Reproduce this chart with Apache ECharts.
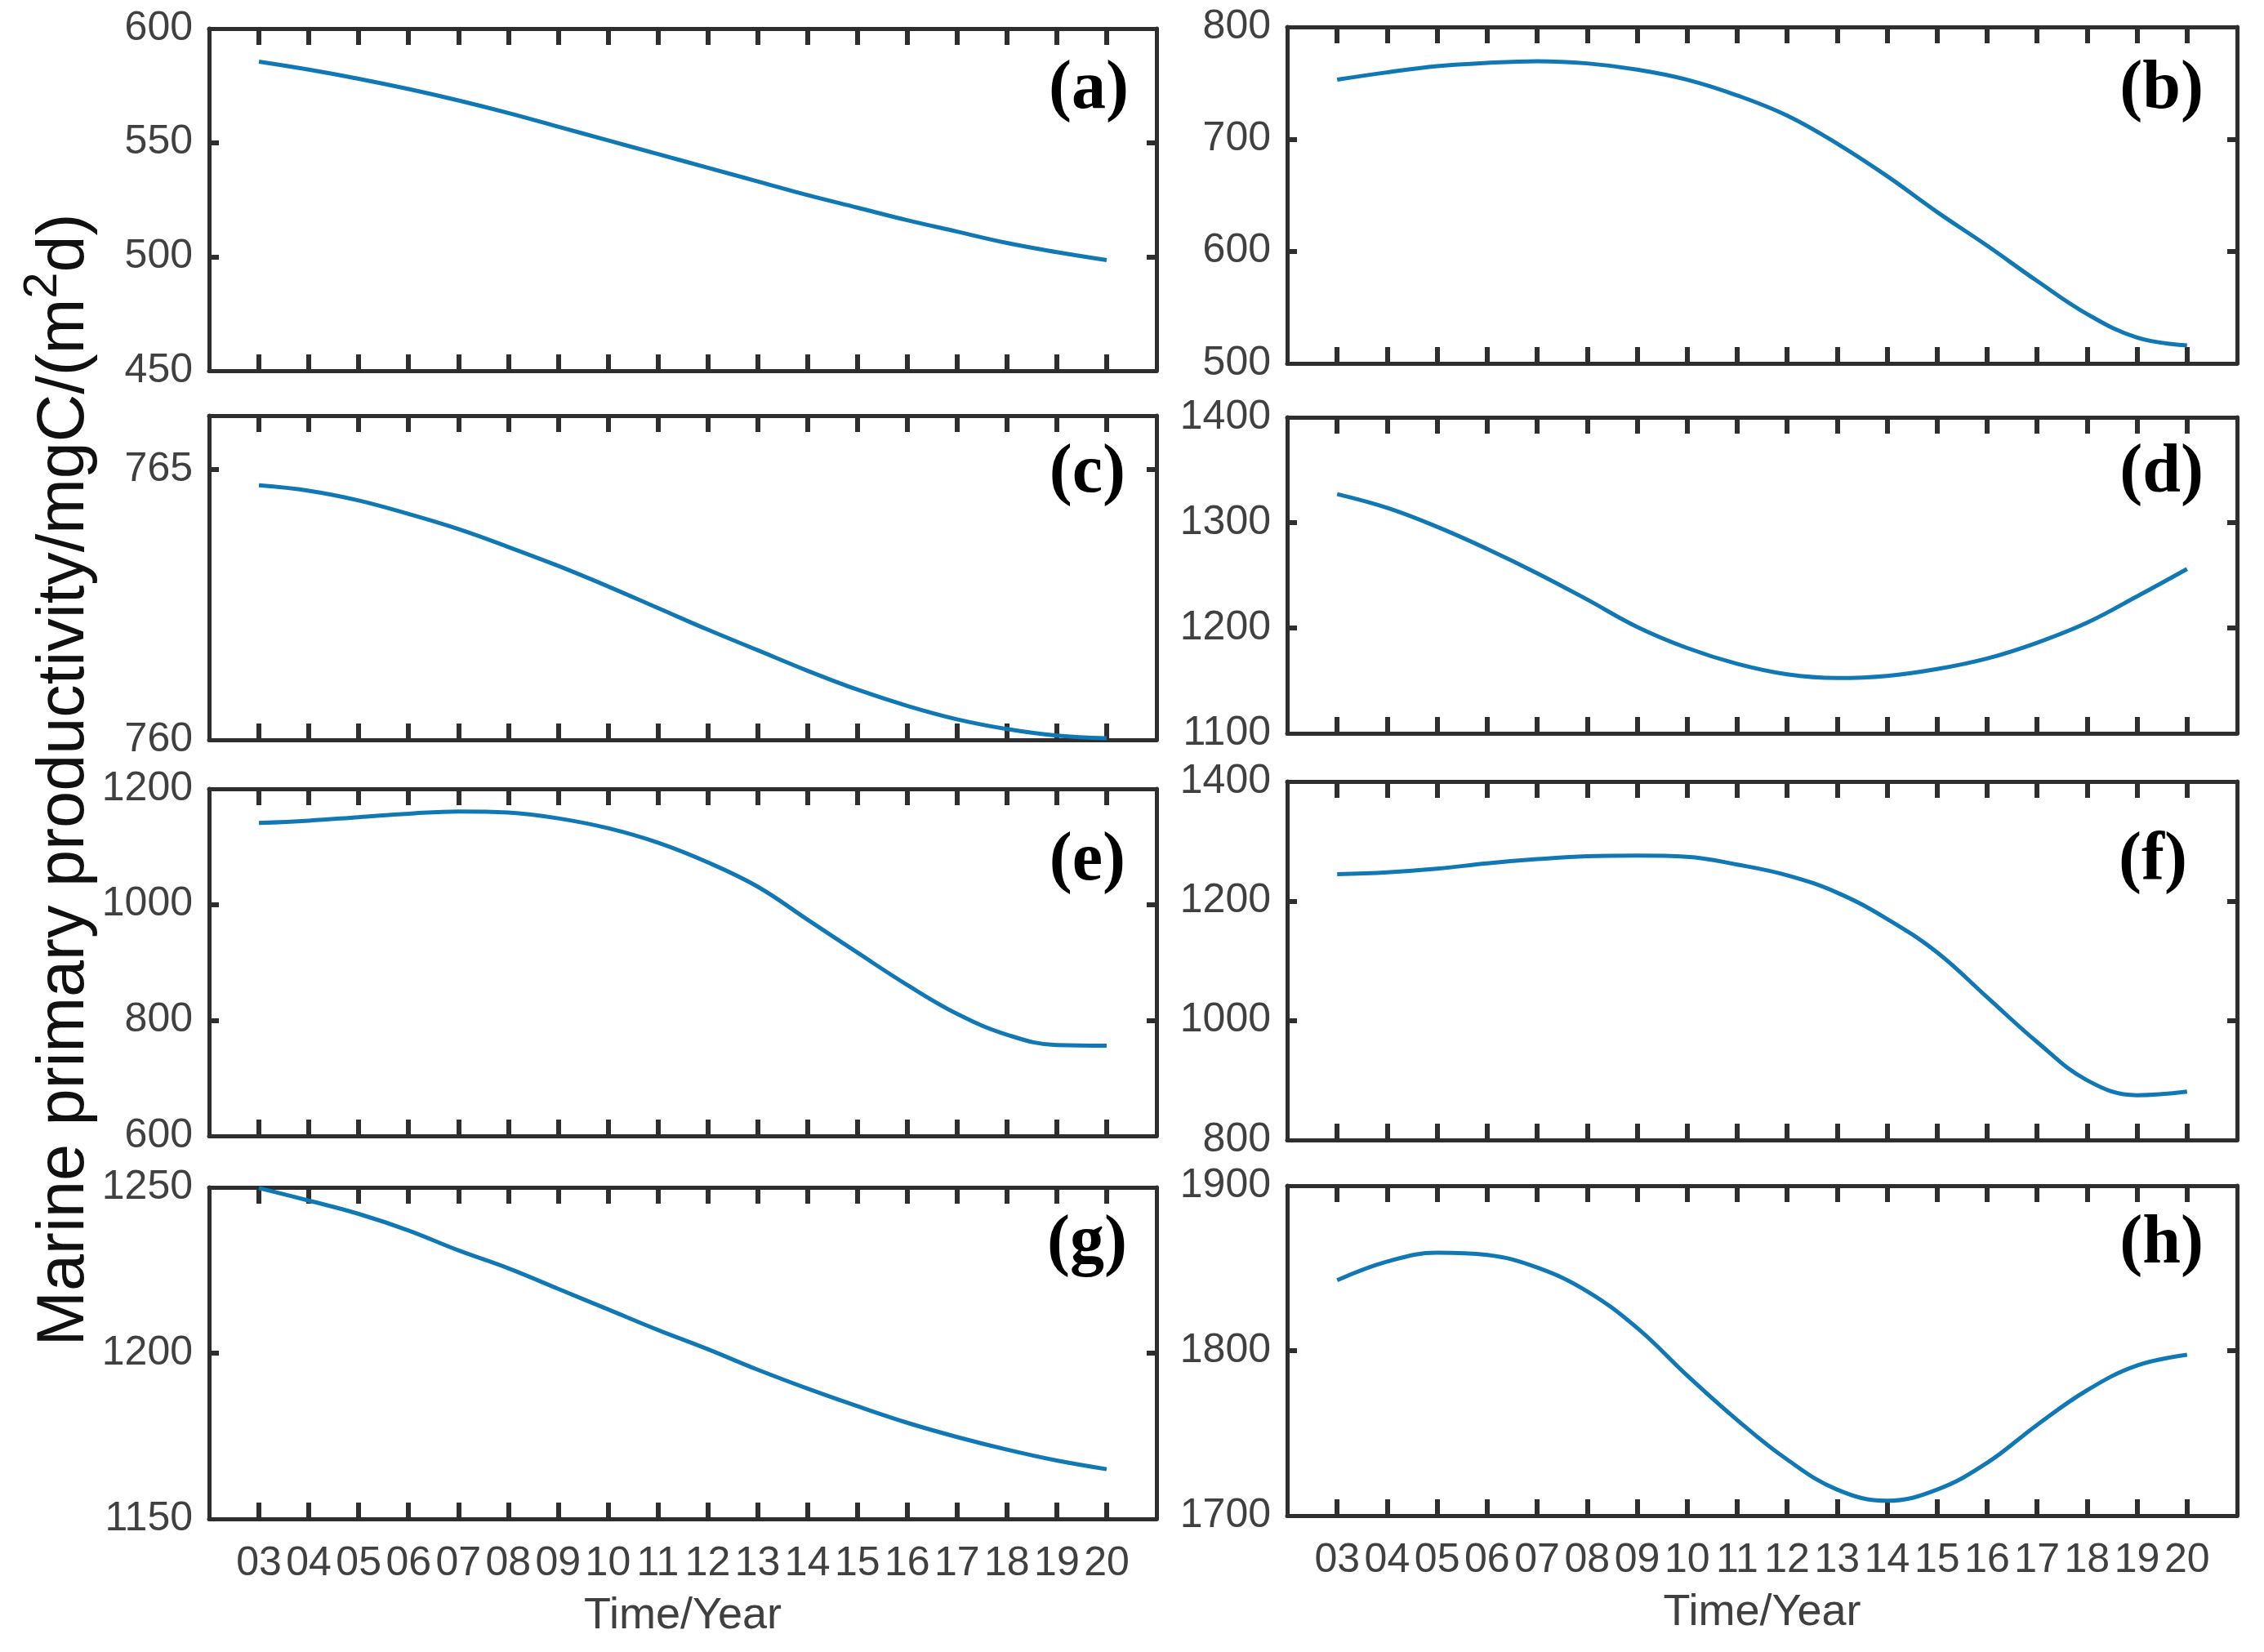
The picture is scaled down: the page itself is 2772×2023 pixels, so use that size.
<!DOCTYPE html>
<html>
<head>
<meta charset="utf-8">
<script src="https://cdn.jsdelivr.net/npm/echarts@6/dist/echarts.min.js"></script>
<style>
  html, body { margin: 0; padding: 0; background: #fff; }
  #chart { width: 2772px; height: 2023px; }
</style>
</head>
<body>
<div id="chart"></div>
<script>
// years on the x axis (shown as two digits)
const years = [2003, 2004, 2005, 2006, 2007, 2008, 2009, 2010, 2011, 2012,
               2013, 2014, 2015, 2016, 2017, 2018, 2019, 2020];

// values
const valuesA = [585.5, 582, 578, 573.5, 568.5, 563, 557, 551, 545, 539, 533, 527, 521.5, 516, 511, 506, 502, 498.5];
const valuesB = [753, 759.5, 765, 768, 769.5, 767.5, 762, 753, 739, 721, 696, 667, 635, 605, 573.5, 544, 523, 516];
const valuesC = [764.71, 764.61, 764.43, 764.18, 763.9, 763.57, 763.22, 762.84, 762.44, 762.04, 761.66, 761.28, 760.93, 760.63, 760.38, 760.2, 760.08, 760.03];
const valuesD = [1327, 1314, 1296, 1275, 1252, 1227, 1201, 1181, 1166, 1156, 1152.5, 1154.5, 1161, 1171, 1186, 1205, 1230, 1256];
const valuesE = [1141, 1145, 1151, 1157, 1161, 1159, 1149, 1132, 1107, 1073, 1031, 974, 917, 861, 811, 775, 757, 756];
const valuesF = [1245, 1248, 1254, 1263, 1270, 1275, 1276, 1274, 1261, 1243, 1214, 1170, 1114, 1039, 964, 900, 875, 881];
const valuesG = [1249.8, 1246, 1242, 1237, 1231, 1225.6, 1219.4, 1213.2, 1207, 1201.2, 1195, 1189.3, 1184, 1179, 1174.7, 1170.9, 1167.6, 1165];
const valuesH = [1842.7, 1854, 1859.4, 1858, 1850.4, 1836, 1813.8, 1785, 1758, 1734, 1715.8, 1709, 1715.8, 1732, 1755, 1776, 1791, 1797.5];

// y axis ranges: [min, max, tick step]
const rangeA = [450, 600, 50];
const rangeB = [500, 800, 100];
const rangeC = [760, 766, 5];
const rangeD = [1100, 1400, 100];
const rangeE = [600, 1200, 200];
const rangeF = [800, 1400, 200];
const rangeG = [1150, 1250, 50];
const rangeH = [1700, 1900, 100];

const tags = ['(a)', '(b)', '(c)', '(d)', '(e)', '(f)', '(g)', '(h)'];
const xTitle = 'Time/Year';
const yTitleMain = 'Marine primary productivity/mgC/(m';
const yTitleSup = '2';
const yTitleEnd = 'd)';

const FRAME = '#2e2e2e';
const LINE = '#1078b5';
const TEXT = '#404040';
const NUM_FONT = "'Liberation Sans', Arial, sans-serif";

// grid boxes [left, top, width, height] and tag anchors [x, y]
const panels = [
    { values: valuesA, range: rangeA, box: [256, 35, 1160, 419], tag: [1382, 110], bottom: false },
    { values: valuesB, range: rangeB, box: [1576, 33, 1163, 412], tag: [2698, 110], bottom: false },
    { values: valuesC, range: rangeC, box: [256, 509, 1160, 397], tag: [1378, 580], bottom: false },
    { values: valuesD, range: rangeD, box: [1576, 511, 1163, 387], tag: [2698, 580], bottom: false },
    { values: valuesE, range: rangeE, box: [256, 966, 1160, 425], tag: [1378, 1055], bottom: false },
    { values: valuesF, range: rangeF, box: [1576, 957, 1163, 439], tag: [2678, 1055], bottom: false },
    { values: valuesG, range: rangeG, box: [256, 1454, 1160, 406], tag: [1380, 1524], bottom: true },
    { values: valuesH, range: rangeH, box: [1576, 1452, 1163, 404], tag: [2698, 1524], bottom: true }
];

function yTickValues(range) {
    const out = [];
    for (let v = range[0]; v <= range[1]; v += range[2]) out.push(v);
    return out;
}

function init() {
    const chart = echarts.init(document.getElementById('chart'), null, { renderer: 'canvas' });

    const grid = [], xAxis = [], yAxis = [], series = [], graphic = [];

    panels.forEach((p, i) => {
        grid.push({ left: p.box[0], top: p.box[1], width: p.box[2], height: p.box[3], containLabel: false });

        const xBase = {
            type: 'value', gridIndex: i, min: 2002, max: 2021, interval: 1,
            axisLine: { show: true, onZero: false, lineStyle: { color: FRAME, width: 5 } },
            axisTick: { show: true, inside: true, length: 20, customValues: years, lineStyle: { color: FRAME, width: 6 } },
            splitLine: { show: false }
        };
        xAxis.push(Object.assign({}, xBase, {
            position: 'bottom',
            axisLabel: {
                show: p.bottom, margin: 30, fontSize: 50, color: TEXT, fontFamily: NUM_FONT,
                customValues: years,
                formatter: v => String(v).slice(2)
            },
            name: p.bottom ? xTitle : '',
            nameLocation: 'middle', nameGap: 92,
            nameTextStyle: { fontSize: 54, color: TEXT, fontFamily: NUM_FONT }
        }));
        xAxis.push(Object.assign({}, xBase, { position: 'top', axisLabel: { show: false } }));

        const [mn, mx, step] = p.range;
        const ticks = yTickValues(p.range);
        const inner = ticks.filter(v => v > mn && v < mx);
        const yBase = {
            type: 'value', gridIndex: i, min: mn, max: mx, interval: step,
            axisLine: { show: true, onZero: false, lineStyle: { color: FRAME, width: 5 } },
            axisTick: { show: true, inside: true, length: 12, customValues: inner, lineStyle: { color: FRAME, width: 6 } }
        };
        yAxis.push(Object.assign({}, yBase, {
            position: 'left',
            axisLabel: {
                margin: 20, fontSize: 50, color: TEXT, fontFamily: NUM_FONT,
                customValues: ticks,
                formatter: v => String(v)
            },
            splitLine: { show: true, showMinLine: false, showMaxLine: false, lineStyle: { color: '#dadada', width: 4 } }
        }));
        yAxis.push(Object.assign({}, yBase, {
            position: 'right', axisLabel: { show: false }, splitLine: { show: false }
        }));

        series.push({
            type: 'line', xAxisIndex: 2 * i, yAxisIndex: 2 * i,
            data: years.map((y, k) => [y, p.values[k]]),
            smooth: 0.4, showSymbol: false, silent: true, z: 3,
            lineStyle: { color: LINE, width: 5 }
        });

        graphic.push({
            type: 'text', x: p.tag[0], y: p.tag[1], z: 100,
            style: {
                text: tags[i], fill: '#000',
                font: "bold 84px 'Liberation Serif', 'Times New Roman', serif",
                align: 'right', verticalAlign: 'middle'
            }
        });
    });

    graphic.push({
        type: 'text', x: 72, y: 955, rotation: Math.PI / 2, z: 100,
        style: {
            text: '{t|' + yTitleMain + '}{s|' + yTitleSup + '}{t|' + yTitleEnd + '}',
            align: 'center', verticalAlign: 'middle',
            rich: {
                t: { fontSize: 81, fontFamily: "'Liberation Sans', Arial, sans-serif", fill: '#111', lineHeight: 96, verticalAlign: 'bottom' },
                s: { fontSize: 58, fontFamily: "'Liberation Sans', Arial, sans-serif", fill: '#111', lineHeight: 96, verticalAlign: 'top' }
            }
        }
    });

    chart.setOption({
        backgroundColor: '#fff',
        animation: false,
        grid, xAxis, yAxis, series, graphic
    });
}

window.onload = init;
</script>
</body>
</html>
